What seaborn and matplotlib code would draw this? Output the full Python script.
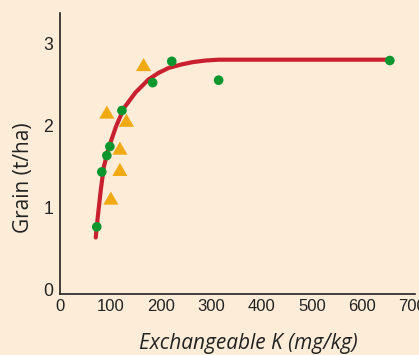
import matplotlib
matplotlib.use("Agg")
import matplotlib.pyplot as plt
import seaborn as sns
import pandas as pd

# Green circles
circle_k = [73, 83, 93, 99, 123, 184, 222, 315, 655]
circle_y = [0.76, 1.43, 1.63, 1.74, 2.18, 2.52, 2.78, 2.55, 2.79]
# Orange triangles
tri_k = [93, 132, 119, 119, 101, 166]
tri_y = [2.15, 2.05, 1.71, 1.45, 1.10, 2.73]
# Response curve
curve_k = [71, 75, 81, 87, 97, 111, 127, 150, 176, 196, 216, 240, 263, 289, 315, 655]
curve_y = [0.63, 0.88, 1.21, 1.49, 1.73, 1.98, 2.21, 2.40, 2.56, 2.64, 2.70, 2.74, 2.77, 2.79, 2.80, 2.80]

x_ticks = [0, 100, 200, 300, 400, 500, 600, 700]
y_ticks = [0, 1, 2, 3]

BG = "#FDECD8"
sns.set_theme(style="white")
plt.rcParams['font.family'] = ['Open Sans', 'DejaVu Sans']
TICKFONT = ['Liberation Sans Narrow', 'Liberation Sans', 'DejaVu Sans']

fig = plt.figure(figsize=(4.19, 3.55), dpi=100)
fig.patch.set_facecolor(BG)
ax = fig.add_axes([60/419, 61/355, (415-60)/419, (294-13)/355])
ax.set_facecolor(BG)

tri_marker = [(-1, -0.75), (1, -0.75), (0, 0.98), (-1, -0.75)]

sns.lineplot(x=curve_k, y=curve_y, ax=ax, color="#C8202E", linewidth=3.0,
             sort=True, estimator=None, zorder=2)
sns.scatterplot(x=tri_k, y=tri_y, ax=ax, marker=tri_marker, s=120, color="#F0AA14",
                edgecolor="none", linewidth=0, zorder=3)
sns.scatterplot(x=circle_k, y=circle_y, ax=ax, marker="o", s=48, color="#0C962E",
                edgecolor="none", linewidth=0, zorder=4)

ax.set_xlim(0, 705)
ax.set_ylim(-0.06, 3.37)
ax.set_xticks(x_ticks)
ax.set_yticks(y_ticks)
ax.set_xticklabels([str(v) for v in x_ticks], fontsize=12, color="#222222", family=TICKFONT)
ax.set_yticklabels([str(v) for v in y_ticks], fontsize=12.7, color="#222222", family=TICKFONT)
ax.tick_params(axis="x", length=0, pad=3.5)
ax.tick_params(axis="y", length=0, pad=5)

for s in ["top", "right"]:
    ax.spines[s].set_visible(False)
for s in ["left", "bottom"]:
    ax.spines[s].set_color("#222222")
    ax.spines[s].set_linewidth(1.2)

ax.set_xlabel("Exchangeable K (mg/kg)", fontsize=15, style="italic", color="#222222")
ax.set_ylabel("Grain (t/ha)", fontsize=15, color="#222222")
ax.xaxis.set_label_coords(0.53, -0.14)
ax.yaxis.set_label_coords(-0.073, 0.413)

fig.savefig("out.png", dpi=100, facecolor=BG)
